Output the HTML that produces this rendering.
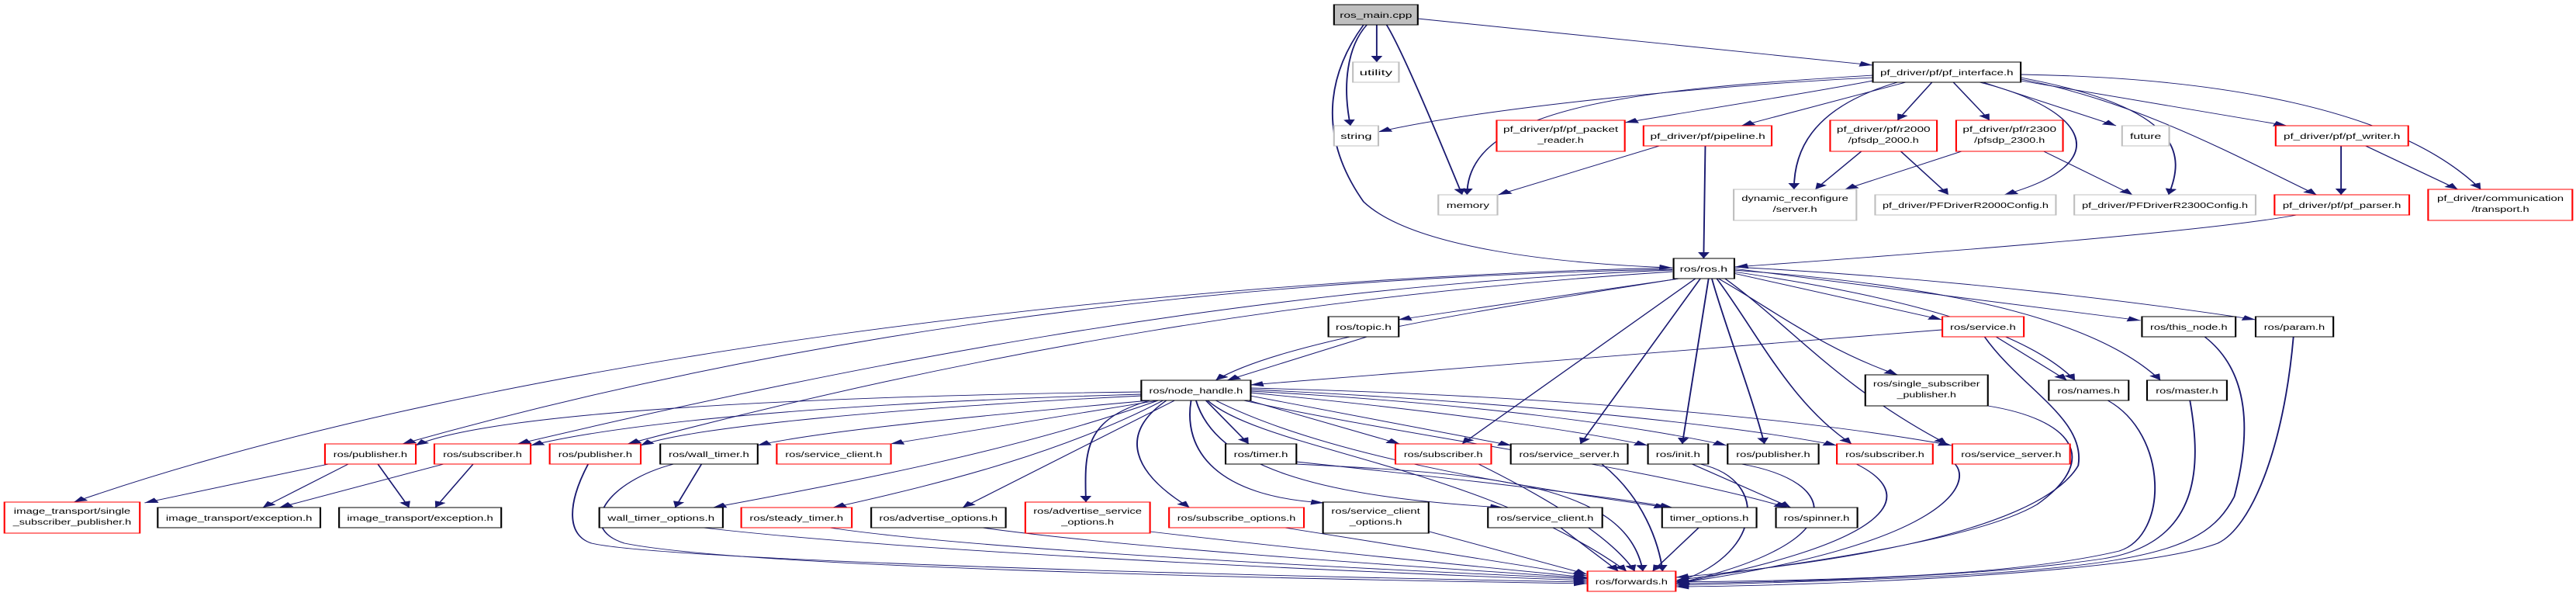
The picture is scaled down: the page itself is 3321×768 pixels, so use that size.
<!DOCTYPE html>
<html><head><meta charset="utf-8"><style>html,body{margin:0;padding:0;background:#fff}svg{display:block}</style></head>
<body>
<svg width="3321" height="768" viewBox="0 0 1568 768" preserveAspectRatio="none" xmlns="http://www.w3.org/2000/svg">
<defs><marker id="a" markerUnits="userSpaceOnUse" markerWidth="9" markerHeight="8" refX="8" refY="3.5" orient="auto"><path d="M0,0 L8,3.5 L0,7 z" fill="#191970"/></marker></defs>
<g fill="none" stroke="#191970" stroke-width="0.9" marker-end="url(#a)">
<path d="M838,32 L838,80"/>
<path d="M832,32 C820,60 817,110 822,162"/>
<path d="M844,32 C855,70 880,200 890,251"/>
<path d="M830,32 C810,90 800,170 830,260 C860,320 950,340 1018,345"/>
<path d="M863,24 L1140,84"/>
<path d="M1140,100 C1040,110 900,140 839,170"/>
<path d="M1140,97 C1000,115 893,135 893,251"/>
<path d="M1140,104 C1100,120 1040,140 989,158"/>
<path d="M1160,106 L1060,162"/>
<path d="M1155,106 C1100,140 1092,200 1092,244"/>
<path d="M1176,106 L1155,155"/>
<path d="M1189,106 L1211,155"/>
<path d="M1205,106 C1270,140 1290,210 1220,251"/>
<path d="M1207,106 L1288,162"/>
<path d="M1230,100 C1330,140 1330,200 1320,251"/>
<path d="M1230,104 L1392,162"/>
<path d="M1230,102 C1300,130 1360,200 1410,251"/>
<path d="M1230,96 C1350,100 1460,140 1510,244"/>
<path d="M1010,188 L912,251"/>
<path d="M1038,188 L1037,333"/>
<path d="M1133,195 L1105,244"/>
<path d="M1157,195 L1186,251"/>
<path d="M1194,195 L1123,244"/>
<path d="M1244,195 L1298,251"/>
<path d="M1425,188 L1425,251"/>
<path d="M1440,188 L1496,244"/>
<path d="M1398,277 C1340,300 1150,330 1056,344"/>
<path d="M1018,345 C700,360 300,460 45,647"/>
<path d="M1018,347 C700,360 450,450 245,572"/>
<path d="M1018,348 C750,370 500,480 315,572"/>
<path d="M1018,350 C800,380 600,450 382,572"/>
<path d="M1022,359 C900,400 780,440 740,490"/>
<path d="M1022,359 L851,412"/>
<path d="M1055,352 L1182,412"/>
<path d="M1046,359 C1080,400 1110,450 1155,483"/>
<path d="M1055,350 C1150,380 1230,420 1263,490"/>
<path d="M1055,348 C1200,370 1280,420 1315,490"/>
<path d="M1055,346 L1303,413"/>
<path d="M1055,344 C1200,360 1320,395 1373,412"/>
<path d="M1040,359 L1024,572"/>
<path d="M1042,359 C1050,420 1065,500 1074,572"/>
<path d="M1045,359 C1070,430 1090,520 1127,572"/>
<path d="M1050,359 C1090,420 1120,500 1185,572"/>
<path d="M1032,359 L890,572"/>
<path d="M1035,359 L962,572"/>
<path d="M1182,425 L761,496"/>
<path d="M1215,434 L1258,490"/>
<path d="M1208,434 C1230,500 1270,540 1265,600 C1240,690 1100,730 1020,744"/>
<path d="M832,434 L747,490"/>
<path d="M1210,523 C1260,540 1280,590 1240,650 C1200,700 1080,730 1020,748"/>
<path d="M1283,516 C1320,560 1320,690 1290,710 C1220,745 1100,748 1020,750"/>
<path d="M1333,516 C1340,600 1340,700 1280,720 C1200,745 1080,750 1020,752"/>
<path d="M1342,434 C1370,480 1370,560 1360,640 C1340,720 1300,740 1020,754"/>
<path d="M1396,434 C1390,580 1370,680 1350,700 C1300,740 1100,755 1020,756"/>
<path d="M695,505 C500,510 300,530 253,574"/>
<path d="M695,508 C500,520 380,545 323,574"/>
<path d="M695,510 C550,525 420,550 390,574"/>
<path d="M700,516 C600,535 500,555 461,574"/>
<path d="M705,516 L542,572"/>
<path d="M734,516 L760,572"/>
<path d="M760,516 L852,572"/>
<path d="M761,510 L920,574"/>
<path d="M761,506 C880,530 960,555 1003,574"/>
<path d="M761,504 C900,520 1000,550 1051,574"/>
<path d="M761,502 C900,515 1050,545 1118,574"/>
<path d="M761,500 C950,510 1100,540 1188,574"/>
<path d="M715,516 L586,654"/>
<path d="M700,516 C660,540 660,580 661,647"/>
<path d="M710,516 C680,560 690,610 724,654"/>
<path d="M725,516 C720,580 740,640 806,648"/>
<path d="M728,516 C740,600 800,640 915,654"/>
<path d="M740,516 C800,580 900,620 1015,654"/>
<path d="M705,516 C620,580 520,620 434,654"/>
<path d="M708,516 C650,580 580,620 507,654"/>
<path d="M735,516 C770,580 900,600 990,736"/>
<path d="M757,516 C850,560 1000,600 1088,654"/>
<path d="M200,598 L88,648"/>
<path d="M212,598 L160,654"/>
<path d="M230,598 L249,654"/>
<path d="M270,598 L170,654"/>
<path d="M288,598 L265,654"/>
<path d="M358,598 C345,650 345,690 360,700 C400,720 700,740 966,750"/>
<path d="M427,598 L411,654"/>
<path d="M410,598 C370,620 350,680 380,700 C450,730 750,745 966,752"/>
<path d="M428,680 C550,710 800,735 966,748"/>
<path d="M505,680 C600,710 850,735 966,746"/>
<path d="M598,680 C700,710 900,735 966,745"/>
<path d="M700,685 C800,710 900,730 966,744"/>
<path d="M782,680 L966,742"/>
<path d="M870,685 L966,740"/>
<path d="M950,680 L985,736"/>
<path d="M1034,680 L1006,736"/>
<path d="M789,595 C900,620 980,640 1018,654"/>
<path d="M789,598 C900,610 990,620 1000,736"/>
<path d="M1030,598 L1090,654"/>
<path d="M1035,598 C1080,620 1070,720 1020,750"/>
<path d="M975,598 C1000,640 1010,700 1012,736"/>
<path d="M1060,598 C1120,620 1130,700 1020,752"/>
<path d="M1130,598 C1170,640 1150,700 1020,752"/>
<path d="M1190,598 C1200,620 1190,700 1020,752"/>
<path d="M900,598 C940,640 980,690 995,736"/>
</g>
<g font-family="Liberation Sans, sans-serif" font-size="10" text-anchor="middle" fill="#000" stroke-width="1" lengthAdjust="spacingAndGlyphs">
<rect x="812" y="6" width="51" height="26" fill="#bfbfbf" stroke="#000"/><text x="837.5" y="23" textLength="44" lengthAdjust="spacingAndGlyphs">ros_main.cpp</text>
<rect x="823.5" y="80" width="28" height="26" fill="#fff" stroke="#bfbfbf"/><text x="837.5" y="97" textLength="20" lengthAdjust="spacingAndGlyphs">utility</text>
<rect x="812" y="162" width="27" height="26" fill="#fff" stroke="#bfbfbf"/><text x="825.5" y="179" textLength="19" lengthAdjust="spacingAndGlyphs">string</text>
<rect x="911" y="155" width="78" height="40" fill="#fff" stroke="#f00"/><text x="950" y="170" textLength="70" lengthAdjust="spacingAndGlyphs">pf_driver/pf/pf_packet</text><text x="950" y="184" textLength="28" lengthAdjust="spacingAndGlyphs">_reader.h</text>
<rect x="875.5" y="251" width="36" height="26" fill="#fff" stroke="#bfbfbf"/><text x="893.5" y="268" textLength="26" lengthAdjust="spacingAndGlyphs">memory</text>
<rect x="1018.7" y="333" width="37" height="26" fill="#fff" stroke="#000"/><text x="1037" y="350" textLength="29" lengthAdjust="spacingAndGlyphs">ros/ros.h</text>
<rect x="1140" y="80" width="90" height="26" fill="#fff" stroke="#000"/><text x="1185" y="97" textLength="81" lengthAdjust="spacingAndGlyphs">pf_driver/pf/pf_interface.h</text>
<rect x="1000.4" y="162" width="78" height="26" fill="#fff" stroke="#f00"/><text x="1039.5" y="179" textLength="70" lengthAdjust="spacingAndGlyphs">pf_driver/pf/pipeline.h</text>
<rect x="1114" y="155" width="65" height="40" fill="#fff" stroke="#f00"/><text x="1146.5" y="170" textLength="57" lengthAdjust="spacingAndGlyphs">pf_driver/pf/r2000</text><text x="1146.5" y="184" textLength="43" lengthAdjust="spacingAndGlyphs">/pfsdp_2000.h</text>
<rect x="1190.7" y="155" width="65" height="40" fill="#fff" stroke="#f00"/><text x="1223.2" y="170" textLength="57" lengthAdjust="spacingAndGlyphs">pf_driver/pf/r2300</text><text x="1223.2" y="184" textLength="43" lengthAdjust="spacingAndGlyphs">/pfsdp_2300.h</text>
<rect x="1291.7" y="162" width="28.7" height="26" fill="#fff" stroke="#bfbfbf"/><text x="1306" y="179" textLength="19" lengthAdjust="spacingAndGlyphs">future</text>
<rect x="1385.2" y="162" width="80.7" height="26" fill="#fff" stroke="#f00"/><text x="1425.5" y="179" textLength="71" lengthAdjust="spacingAndGlyphs">pf_driver/pf/pf_writer.h</text>
<rect x="1055.3" y="244" width="74.7" height="40" fill="#fff" stroke="#bfbfbf"/><text x="1092.6" y="259" textLength="65" lengthAdjust="spacingAndGlyphs">dynamic_reconfigure</text><text x="1092.6" y="273" textLength="27" lengthAdjust="spacingAndGlyphs">/server.h</text>
<rect x="1141.4" y="251" width="110" height="26" fill="#fff" stroke="#bfbfbf"/><text x="1196.4" y="268" textLength="101" lengthAdjust="spacingAndGlyphs">pf_driver/PFDriverR2000Config.h</text>
<rect x="1262.6" y="251" width="110.4" height="26" fill="#fff" stroke="#bfbfbf"/><text x="1317.8" y="268" textLength="101" lengthAdjust="spacingAndGlyphs">pf_driver/PFDriverR2300Config.h</text>
<rect x="1384.5" y="251" width="82" height="26" fill="#fff" stroke="#f00"/><text x="1425.5" y="268" textLength="72" lengthAdjust="spacingAndGlyphs">pf_driver/pf/pf_parser.h</text>
<rect x="1478" y="244" width="87.8" height="40" fill="#fff" stroke="#f00"/><text x="1522" y="259" textLength="77" lengthAdjust="spacingAndGlyphs">pf_driver/communication</text><text x="1522" y="273" textLength="35" lengthAdjust="spacingAndGlyphs">/transport.h</text>
<rect x="808.6" y="408" width="42.8" height="26" fill="#fff" stroke="#000"/><text x="830" y="425" textLength="34" lengthAdjust="spacingAndGlyphs">ros/topic.h</text>
<rect x="1182.3" y="408" width="49.6" height="26" fill="#fff" stroke="#f00"/><text x="1207" y="425" textLength="40" lengthAdjust="spacingAndGlyphs">ros/service.h</text>
<rect x="1303.8" y="408" width="57" height="26" fill="#fff" stroke="#000"/><text x="1332.3" y="425" textLength="47" lengthAdjust="spacingAndGlyphs">ros/this_node.h</text>
<rect x="1373" y="408" width="47.3" height="26" fill="#fff" stroke="#000"/><text x="1396.6" y="425" textLength="37" lengthAdjust="spacingAndGlyphs">ros/param.h</text>
<rect x="694.7" y="490" width="66.6" height="26" fill="#fff" stroke="#000"/><text x="728" y="507" textLength="57" lengthAdjust="spacingAndGlyphs">ros/node_handle.h</text>
<rect x="1135.4" y="483" width="74.6" height="40" fill="#fff" stroke="#000"/><text x="1172.7" y="498" textLength="65" lengthAdjust="spacingAndGlyphs">ros/single_subscriber</text><text x="1172.7" y="512" textLength="36" lengthAdjust="spacingAndGlyphs">_publisher.h</text>
<rect x="1247.1" y="490" width="48.6" height="26" fill="#fff" stroke="#000"/><text x="1271.4" y="507" textLength="38" lengthAdjust="spacingAndGlyphs">ros/names.h</text>
<rect x="1306.9" y="490" width="48.6" height="26" fill="#fff" stroke="#000"/><text x="1331.2" y="507" textLength="38" lengthAdjust="spacingAndGlyphs">ros/master.h</text>
<rect x="197.8" y="572" width="55.3" height="26" fill="#fff" stroke="#f00"/><text x="225.4" y="589" textLength="45" lengthAdjust="spacingAndGlyphs">ros/publisher.h</text>
<rect x="264.4" y="572" width="58.6" height="26" fill="#fff" stroke="#f00"/><text x="293.7" y="589" textLength="48" lengthAdjust="spacingAndGlyphs">ros/subscriber.h</text>
<rect x="334.6" y="572" width="55.4" height="26" fill="#fff" stroke="#f00"/><text x="362.3" y="589" textLength="45" lengthAdjust="spacingAndGlyphs">ros/publisher.h</text>
<rect x="401.9" y="572" width="59.3" height="26" fill="#fff" stroke="#000"/><text x="431.5" y="589" textLength="49" lengthAdjust="spacingAndGlyphs">ros/wall_timer.h</text>
<rect x="472.8" y="572" width="69.5" height="26" fill="#fff" stroke="#f00"/><text x="507.5" y="589" textLength="59" lengthAdjust="spacingAndGlyphs">ros/service_client.h</text>
<rect x="746" y="572" width="43.1" height="26" fill="#fff" stroke="#000"/><text x="767.5" y="589" textLength="33" lengthAdjust="spacingAndGlyphs">ros/timer.h</text>
<rect x="849.4" y="572" width="58.3" height="26" fill="#fff" stroke="#f00"/><text x="878.5" y="589" textLength="48" lengthAdjust="spacingAndGlyphs">ros/subscriber.h</text>
<rect x="919.6" y="572" width="71.2" height="26" fill="#fff" stroke="#000"/><text x="955.2" y="589" textLength="61" lengthAdjust="spacingAndGlyphs">ros/service_server.h</text>
<rect x="1003.1" y="572" width="36.7" height="26" fill="#fff" stroke="#000"/><text x="1021.4" y="589" textLength="27" lengthAdjust="spacingAndGlyphs">ros/init.h</text>
<rect x="1051.6" y="572" width="55.4" height="26" fill="#fff" stroke="#000"/><text x="1079.3" y="589" textLength="45" lengthAdjust="spacingAndGlyphs">ros/publisher.h</text>
<rect x="1118.1" y="572" width="58.4" height="26" fill="#fff" stroke="#f00"/><text x="1147.3" y="589" textLength="48" lengthAdjust="spacingAndGlyphs">ros/subscriber.h</text>
<rect x="1188.4" y="572" width="71.6" height="26" fill="#fff" stroke="#f00"/><text x="1224.2" y="589" textLength="61" lengthAdjust="spacingAndGlyphs">ros/service_server.h</text>
<rect x="2.7" y="647" width="82.4" height="40" fill="#fff" stroke="#f00"/><text x="43.9" y="662" textLength="71" lengthAdjust="spacingAndGlyphs">image_transport/single</text><text x="43.9" y="676" textLength="72" lengthAdjust="spacingAndGlyphs">_subscriber_publisher.h</text>
<rect x="96" y="654" width="99" height="26" fill="#fff" stroke="#000"/><text x="145.5" y="671" textLength="89" lengthAdjust="spacingAndGlyphs">image_transport/exception.h</text>
<rect x="206.4" y="654" width="98.7" height="26" fill="#fff" stroke="#000"/><text x="255.7" y="671" textLength="89" lengthAdjust="spacingAndGlyphs">image_transport/exception.h</text>
<rect x="364.8" y="654" width="75.2" height="26" fill="#fff" stroke="#000"/><text x="402.4" y="671" textLength="65" lengthAdjust="spacingAndGlyphs">wall_timer_options.h</text>
<rect x="451.2" y="654" width="67.3" height="26" fill="#fff" stroke="#f00"/><text x="484.8" y="671" textLength="57" lengthAdjust="spacingAndGlyphs">ros/steady_timer.h</text>
<rect x="530.3" y="654" width="81.9" height="26" fill="#fff" stroke="#000"/><text x="571.2" y="671" textLength="72" lengthAdjust="spacingAndGlyphs">ros/advertise_options.h</text>
<rect x="624.1" y="647" width="75.9" height="40" fill="#fff" stroke="#f00"/><text x="662" y="662" textLength="66" lengthAdjust="spacingAndGlyphs">ros/advertise_service</text><text x="662" y="676" textLength="32" lengthAdjust="spacingAndGlyphs">_options.h</text>
<rect x="711.6" y="654" width="82.1" height="26" fill="#fff" stroke="#f00"/><text x="752.6" y="671" textLength="72" lengthAdjust="spacingAndGlyphs">ros/subscribe_options.h</text>
<rect x="805.3" y="647" width="64.3" height="40" fill="#fff" stroke="#000"/><text x="837.4" y="662" textLength="54" lengthAdjust="spacingAndGlyphs">ros/service_client</text><text x="837.4" y="676" textLength="32" lengthAdjust="spacingAndGlyphs">_options.h</text>
<rect x="905.7" y="654" width="69.6" height="26" fill="#fff" stroke="#000"/><text x="940.5" y="671" textLength="59" lengthAdjust="spacingAndGlyphs">ros/service_client.h</text>
<rect x="1011.7" y="654" width="57.5" height="26" fill="#fff" stroke="#000"/><text x="1040.4" y="671" textLength="48" lengthAdjust="spacingAndGlyphs">timer_options.h</text>
<rect x="1081" y="654" width="49.6" height="26" fill="#fff" stroke="#000"/><text x="1105.8" y="671" textLength="40" lengthAdjust="spacingAndGlyphs">ros/spinner.h</text>
<rect x="966.3" y="736" width="53.7" height="26" fill="#fff" stroke="#f00"/><text x="993.1" y="753" textLength="44" lengthAdjust="spacingAndGlyphs">ros/forwards.h</text>
</g>
</svg>
</body></html>
